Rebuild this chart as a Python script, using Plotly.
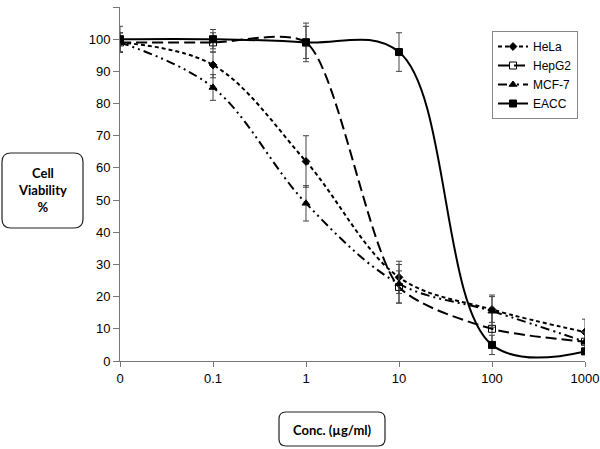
import plotly.graph_objects as go

conc_labels = ["0", "0.1", "1", "10", "100", "1000"]

hela = [99, 92, 62, 26, 16, 9]
hela_err = [3, 4, 8, 5, 4, 4]
hepg2 = [99, 99, 99, 23, 10, 6]
hepg2_err = [3, 3, 5, 5, 5, 3]
mcf7 = [99, 85, 49, 24, 15.5, 6]
mcf7_err = [3, 4, 5.5, 6, 5, 3]
eacc = [100, 100, 99, 96, 5, 3]
eacc_err = [4, 3, 6, 6, 3, 1]

y_ticks = list(range(0, 111, 10))

# plot area in pixels
L, R, T, B = 120, 585, 7, 361
W, H = 600, 449

def px_x(p):
    return (p - L) / (R - L)

def px_y(p):
    return (B - p) / (B - T)

def rounded_box(x0, y0, x1, y1, r):
    def P(x, y):
        return f"{px_x(x):.5f},{px_y(y):.5f}"
    path = (f"M {P(x0 + r, y0)} L {P(x1 - r, y0)} Q {P(x1, y0)} {P(x1, y0 + r)} "
            f"L {P(x1, y1 - r)} Q {P(x1, y1)} {P(x1 - r, y1)} "
            f"L {P(x0 + r, y1)} Q {P(x0, y1)} {P(x0, y1 - r)} "
            f"L {P(x0, y0 + r)} Q {P(x0, y0)} {P(x0 + r, y0)} Z")
    return dict(type="path", path=path, xref="paper", yref="paper",
                line=dict(color="#222", width=1.2), fillcolor="white", layer="above")

fig = go.Figure()

def add(name, y, err, dash, symbol, size, smooth):
    fig.add_trace(go.Scatter(
        x=conc_labels, y=y, name=name, mode="lines+markers",
        line=dict(color="black", width=2, dash=dash, shape="spline", smoothing=smooth),
        marker=dict(symbol=symbol, size=size, color="black",
                    line=dict(color="black", width=1)),
        error_y=dict(type="data", array=err, visible=True, color="#444",
                     thickness=1, width=3),
        cliponaxis=True,
    ))

add("HeLa", hela, hela_err, "4px,3px", "diamond", 6, 1.0)
add("HepG2", hepg2, hepg2_err, "11px,5px", "square-open", 7, 0.7)
add("MCF-7", mcf7, mcf7_err, "9px,4px,2px,4px,2px,4px", "triangle-up", 7, 1.0)
add("EACC", eacc, eacc_err, "solid", "square", 7, 1.05)

fig.update_layout(
    width=W, height=H,
    margin=dict(l=L, r=W - R, t=T, b=H - B, autoexpand=False),
    paper_bgcolor="white", plot_bgcolor="white",
    font=dict(family="Liberation Sans, Arial, sans-serif", size=13, color="black"),
    showlegend=True,
    legend=dict(x=px_x(492), y=px_y(31), xanchor="left", yanchor="top",
                bordercolor="#888", borderwidth=1, bgcolor="white",
                font=dict(size=12), tracegroupgap=0, itemwidth=30,
                traceorder="normal"),
    xaxis=dict(type="category", range=[0, 5], showgrid=False, zeroline=False,
               showline=True, linecolor="#777", linewidth=1, automargin=False,
               ticks="outside", ticklen=5, tickcolor="#777",
               tickfont=dict(size=13)),
    yaxis=dict(range=[0, 110], tickvals=y_ticks, showgrid=False, zeroline=False,
               showline=True, linecolor="#777", linewidth=1, automargin=False,
               ticks="outside", ticklen=6, tickcolor="#777",
               tickfont=dict(size=13)),
    shapes=[rounded_box(2, 153, 83, 228, 9), rounded_box(279, 412, 385, 446, 7)],
    annotations=[
        dict(text="<b>Cell<br>Viability<br>%</b>", x=px_x(42.5), y=px_y(190),
             xref="paper", yref="paper", showarrow=False, xanchor="center",
             yanchor="middle",
             font=dict(family="Lato, sans-serif", size=13), align="center"),
        dict(text="<b>Conc. (µg/ml)</b>", x=px_x(332), y=px_y(430),
             xref="paper", yref="paper", showarrow=False, xanchor="center",
             yanchor="middle",
             font=dict(family="Lato, sans-serif", size=13)),
    ],
)

fig.write_html("out.html", config={"displayModeBar": False},
               post_script="document.body.style.margin='0';document.body.style.overflow='hidden';")
